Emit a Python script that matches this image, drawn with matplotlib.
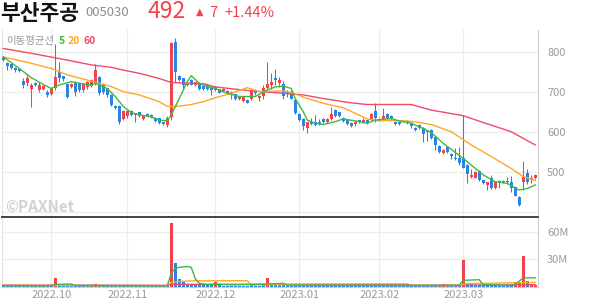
import matplotlib.pyplot as plt
import numpy as np

plt.rcParams['font.family'] = ['Noto Sans CJK KR', 'DejaVu Sans']

# daily candles (2022.09 ~ 2023.03), won
opens = [786, 772, 768, 758, 757, 726, 723, 708, 722, 705, 706, 698, 694, 709, 748, 738, 720, 713, 725, 722,
         705, 712, 715, 720, 737, 720, 708, 692, 665, 665, 631, 638, 652, 642, 648, 631, 644, 642, 635, 633,
         623, 617, 637, 825, 738, 733, 716, 729, 717, 721, 715, 715, 712, 704, 706, 702, 702, 694, 693, 681,
         678, 679, 682, 704, 685, 690, 710, 717, 735, 721, 719, 698, 696, 679, 644, 631, 608, 625, 623, 625,
         631, 624, 632, 654, 648, 633, 628, 621, 619, 628, 623, 628, 628, 652, 628, 631, 644, 639, 625, 623,
         626, 627, 621, 610, 617, 610, 602, 604, 586, 564, 546, 562, 543, 535, 533, 534, 517, 486, 485, 502,
         478, 467, 485, 460, 476, 473, 473, 475, 463, 436, 475, 496, 478, 485]
highs = [788, 774, 770, 762, 760, 735, 745, 722, 724, 725, 716, 704, 710, 818, 775, 740, 722, 722, 727, 725,
         722, 728, 733, 770, 740, 722, 710, 695, 667, 668, 655, 654, 654, 648, 650, 640, 646, 644, 637, 635,
         624, 639, 823, 835, 742, 735, 720, 731, 725, 723, 717, 720, 715, 714, 708, 709, 704, 702, 695, 690,
         688, 681, 708, 706, 691, 717, 775, 746, 758, 737, 727, 704, 704, 681, 646, 633, 625, 633, 642, 632,
         633, 633, 663, 656, 650, 637, 630, 623, 627, 630, 633, 630, 648, 671, 633, 660, 646, 641, 627, 625,
         629, 629, 623, 612, 619, 612, 604, 606, 588, 566, 556, 564, 546, 558, 562, 641, 519, 506, 502, 504,
         480, 475, 492, 477, 478, 479, 486, 488, 465, 438, 527, 506, 492, 494]
lows = [776, 755, 756, 750, 749, 710, 714, 663, 714, 700, 704, 688, 692, 704, 725, 728, 684, 710, 690, 700,
        700, 708, 712, 718, 692, 695, 688, 664, 657, 620, 628, 633, 640, 624, 636, 629, 638, 634, 624, 618,
        616, 612, 630, 725, 727, 708, 714, 716, 714, 704, 705, 704, 693, 702, 696, 700, 696, 683, 680, 679,
        675, 671, 679, 693, 677, 683, 708, 708, 717, 712, 683, 688, 682, 645, 626, 603, 596, 617, 615, 617,
        622, 622, 630, 636, 636, 625, 617, 611, 615, 621, 621, 619, 626, 623, 626, 629, 631, 629, 617, 616,
        624, 619, 608, 602, 606, 573, 577, 582, 554, 546, 544, 546, 532, 529, 517, 508, 471, 483, 483, 477,
        469, 454, 457, 457, 458, 471, 469, 450, 438, 413, 454, 469, 471, 482]
closes = [778, 764, 760, 754, 753, 718, 734, 716, 718, 716, 714, 692, 708, 737, 734, 731, 688, 720, 700, 705,
          720, 725, 730, 755, 696, 700, 692, 667, 660, 623, 652, 652, 642, 646, 638, 638, 640, 636, 627, 621,
          618, 633, 821, 750, 730, 717, 718, 718, 723, 707, 708, 707, 704, 712, 698, 707, 698, 700, 682, 688,
          686, 673, 704, 696, 689, 708, 718, 723, 729, 729, 690, 695, 683, 646, 628, 615, 623, 619, 617, 619,
          624, 631, 644, 638, 638, 627, 619, 613, 625, 623, 628, 621, 644, 633, 631, 638, 633, 631, 619, 618,
          627, 621, 614, 604, 610, 594, 598, 585, 566, 548, 554, 548, 538, 531, 521, 509, 494, 492, 500, 479,
          471, 473, 460, 475, 473, 477, 477, 458, 440, 417, 486, 475, 485, 492]
# volume, millions of shares
volumes = [1.2, 0.9, 0.8, 0.7, 0.6, 1.5, 1.1, 1.6, 0.7, 0.9, 0.8, 0.7, 1.0, 9.0, 2.5, 1.0, 1.4, 0.8, 1.1, 0.9,
           0.8, 0.9, 1.0, 3.0, 1.6, 1.0, 0.9, 1.1, 0.7, 1.5, 1.0, 0.8, 0.6, 0.7, 0.6, 0.5, 0.5, 0.6, 0.7, 0.8,
           0.6, 1.5, 70.0, 26.0, 8.0, 5.0, 3.0, 2.4, 2.0, 1.8, 1.5, 1.4, 1.6, 5.0, 1.2, 1.0, 0.9, 1.1, 1.0, 0.8,
           0.9, 0.7, 1.5, 1.0, 0.8, 1.8, 9.0, 2.5, 2.0, 1.5, 1.6, 1.0, 1.1, 1.5, 1.2, 1.0, 1.3, 0.9, 1.0, 0.8,
           0.7, 0.8, 2.0, 1.2, 1.0, 0.8, 0.8, 0.7, 0.6, 0.7, 0.6, 0.6, 1.5, 1.8, 0.7, 1.2, 0.9, 0.8, 0.7, 0.6,
           0.5, 0.6, 0.7, 0.8, 0.9, 0.8, 1.5, 1.0, 0.9, 0.8, 2.5, 1.0, 0.9, 1.2, 1.0, 29.0, 4.0, 2.5, 2.0, 1.5,
           1.2, 1.8, 1.5, 1.2, 1.0, 1.0, 1.3, 1.5, 4.5, 5.5, 33.0, 6.0, 2.5, 2.0]
# days whose volume bar is drawn red (rose against the day before)
vol_up_days = [13, 23, 42, 53, 66, 110, 115, 128, 129, 130, 132, 133]

# moving average lines, read at sample days (day index, value)
ma5_day = [0, 4, 7, 10, 12, 14, 17, 19, 22, 23, 26, 28, 30, 32, 34, 37, 39, 41, 42, 44, 46, 47, 49, 51, 53, 56,
           59, 61, 63, 66, 68, 70, 72, 73, 75, 76, 78, 80, 83, 85, 88, 91, 93, 97, 99, 102, 105, 107, 110, 115,
           120, 123, 126, 129, 131, 133]
ma5_val = [787, 758, 735, 718, 708, 717, 725, 721, 717, 721, 708, 688, 663, 648, 642, 637, 629, 627, 642, 683,
           725, 740, 721, 713, 708, 696, 688, 688, 688, 704, 712, 714, 708, 683, 650, 629, 621, 618, 625, 632,
           627, 621, 629, 633, 627, 621, 608, 598, 571, 533, 492, 475, 471, 454, 458, 467]
ma20_day = [0, 7, 12, 16, 21, 25, 27, 30, 34, 39, 41, 43, 47, 50, 53, 57, 61, 64, 70, 72, 76, 80, 85, 88, 91,
            94, 97, 101, 104, 107, 112, 117, 122, 127, 130, 133]
ma20_val = [787, 771, 758, 742, 729, 718, 713, 700, 692, 675, 663, 663, 668, 675, 685, 696, 710, 700, 702, 698,
            683, 671, 660, 646, 632, 627, 628, 627, 623, 618, 600, 567, 538, 508, 488, 478]
ma60_day = [0, 7, 16, 22, 27, 30, 34, 39, 42, 50, 53, 61, 70, 75, 80, 85, 88, 91, 102, 107, 115, 120, 127, 133]
ma60_val = [808, 796, 779, 767, 761, 754, 746, 733, 723, 720, 712, 703, 696, 692, 683, 675, 671, 668, 668, 654,
            640, 623, 600, 567]
vma5_day = [0, 12, 13, 17, 18, 41, 42, 43, 44, 46, 47, 48, 49, 51, 53, 57, 66, 70, 71, 114, 115, 119, 120, 127,
            128, 130, 133]
vma5_val = [1.0, 0.9, 2.3, 2.8, 1.2, 0.9, 14.8, 20.0, 21.0, 22.0, 21.0, 8.5, 3.6, 2.0, 2.5, 1.8, 2.7, 3.5, 1.5,
            1.2, 6.8, 7.5, 2.0, 1.3, 2.2, 9.5, 9.6]
vma20_day = [0, 41, 42, 44, 47, 61, 62, 66, 85, 114, 115, 116, 133]
vma20_val = [1.3, 1.0, 4.5, 5.6, 6.2, 6.4, 1.6, 2.0, 1.4, 1.1, 2.5, 3.2, 4.5]
vma60_day = [0, 41, 42, 101, 102, 133]
vma60_val = [1.6, 1.3, 2.4, 2.6, 1.4, 1.9]

month_day = [12, 31, 53, 74, 94, 115]
month_labels = ['2022.10', '2022.11', '2022.12', '2023.01', '2023.02', '2023.03']
price_ticks = [500, 600, 700, 800]
vol_ticks = [30, 60]

RED = '#F2424C'
BLUE = '#2A84E5'
GRID = '#EDEDED'
TXT = '#9A9A9A'

x = np.arange(len(closes))
o, h, l, c = map(np.array, (opens, highs, lows, closes))
up = c >= o
col = np.where(up, RED, BLUE)
vcol = np.where(np.isin(x, vol_up_days), RED, BLUE)

fig = plt.figure(figsize=(5.94, 3.04), dpi=100)
W, H = 594, 304
ax = fig.add_axes([2 / W, 1 - 217 / H, 536 / W, 187 / H])
axv = fig.add_axes([2 / W, 1 - 287 / H, 536 / W, 69 / H])

# price panel
ax.vlines(x, l, h, color=col, lw=0.75, zorder=3)
body = np.maximum(np.abs(c - o), 1.2)
ax.bar(x, body, bottom=np.minimum(o, c), width=0.72, color=col, lw=0, zorder=3)
ax.plot(ma60_day, ma60_val, color='#F24B6A', lw=1.0, zorder=4)
ax.plot(ma20_day, ma20_val, color='#FFA726', lw=1.0, zorder=4)
ax.plot(ma5_day, ma5_val, color='#3DBB3D', lw=1.0, zorder=5)
ax.set_xlim(-0.33, 133.7)
ax.set_ylim(386.75, 854.25)
ax.set_yticks(price_ticks + [400])
ax.set_yticklabels([str(p) for p in price_ticks] + [''])
ax.set_xticks(month_day)
ax.tick_params(labelbottom=False, bottom=False, left=False, right=False, labelleft=False,
               labelright=True, labelcolor=TXT, labelsize=8, pad=3)
ax.grid(True, color=GRID, lw=0.9, zorder=0)
ax.spines['top'].set_visible(False)
ax.spines['left'].set_color('#E0E0E0')
ax.spines['right'].set_color('#CFCFCF')
ax.spines['bottom'].set_color('#333333')
ax.spines['bottom'].set_linewidth(1.3)
for lbl in ax.get_yticklabels():
    lbl.set_va('center_baseline')

# volume panel
axv.bar(x, volumes, width=0.72, color=vcol, lw=0, zorder=3)
axv.plot(vma60_day, vma60_val, color='#F24B6A', lw=1.0, zorder=4)
axv.plot(vma20_day, vma20_val, color='#FFA726', lw=1.0, zorder=4)
axv.plot(vma5_day, vma5_val, color='#3DBB3D', lw=1.0, zorder=5)
axv.set_xlim(-0.33, 133.7)
axv.set_ylim(-0.5, 75)
axv.set_yticks(vol_ticks)
axv.set_yticklabels([f'{v}M' for v in vol_ticks])
axv.set_xticks(month_day)
axv.set_xticklabels(month_labels)
axv.tick_params(bottom=False, left=False, right=False, labelleft=False, labelright=True,
                labelcolor=TXT, labelsize=8, pad=3)
axv.tick_params(axis='x', pad=-1.5)
axv.grid(True, color=GRID, lw=0.9, zorder=0)
axv.spines['top'].set_visible(False)
axv.spines['left'].set_color('#E0E0E0')
axv.spines['right'].set_color('#CFCFCF')
axv.spines['bottom'].set_color('#CFCFCF')

# header
fig.text(0 / W, 1 - 13 / H, '부산주공', fontsize=15.5, fontweight='bold', color='#111111', va='center')
fig.text(85 / W, 1 - 13 / H, '005030', fontsize=9.5, color='#8C8C8C', va='center')
fig.text(147 / W, 1 - 12 / H, '492', fontsize=16.5, color=RED, va='center')
fig.text(196 / W, 1 - 12 / H, '▲', fontsize=7, color=RED, va='center', family=['DejaVu Sans'])
fig.text(209 / W, 1 - 13 / H, '7', fontsize=10.5, color=RED, va='center')
fig.text(224 / W, 1 - 13 / H, '+1.44%', fontsize=10.5, color=RED, va='center')

# legend
fig.text(6 / W, 1 - 41 / H, '이동평균선', fontsize=7.5, color='#9A9A9A', va='center')
fig.text(59 / W, 1 - 41 / H, '5', fontsize=7.5, color='#3DBB3D', va='center', fontweight='bold')
fig.text(68 / W, 1 - 41 / H, '20', fontsize=7.5, color='#FFA726', va='center', fontweight='bold')
fig.text(83 / W, 1 - 41 / H, '60', fontsize=7.5, color='#F24B6A', va='center', fontweight='bold')

# watermark
fig.text(5 / W, 1 - 207 / H, '©PAXNet', fontsize=11, color='#D2D2D2', fontweight='bold', va='center')

fig.savefig('out.png', dpi=100)
